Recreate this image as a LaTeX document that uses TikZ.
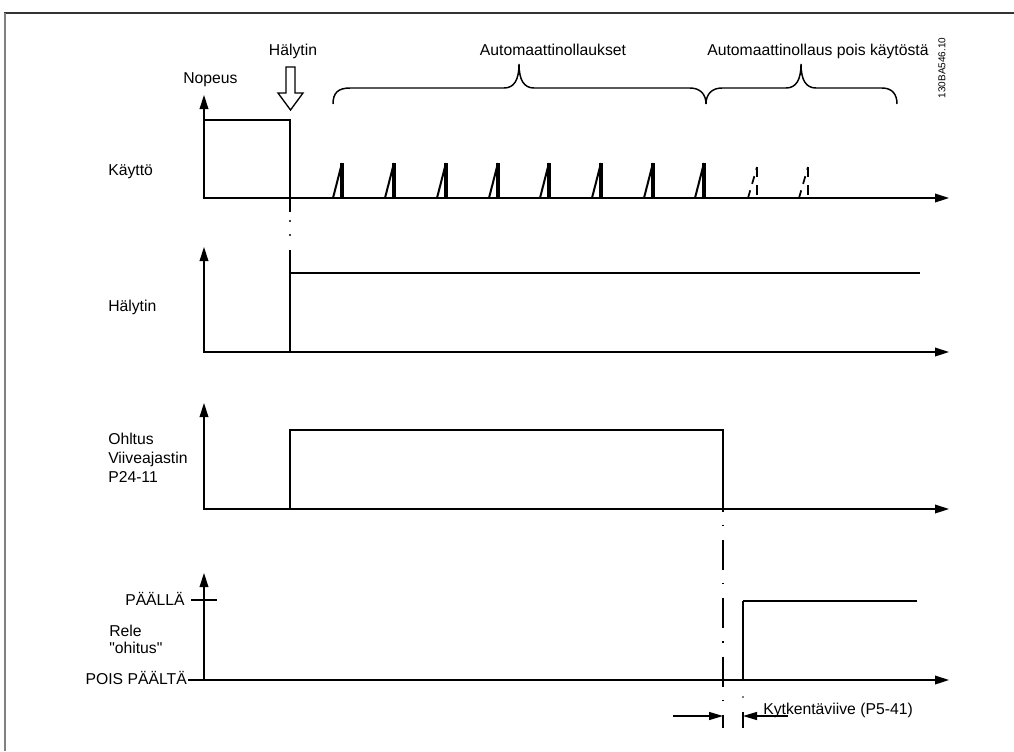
\documentclass[tikz,border=0pt]{standalone}
\usepackage{fontspec}
\setmainfont{Liberation Sans}[Ligatures=TeXOff]
\usetikzlibrary{arrows.meta}
\begin{document}
\begin{tikzpicture}[x=0.75pt,y=-0.75pt,
  axis/.style={line width=1.1pt,{Triangle[length=10.5pt,width=6.5pt]}-{Triangle[length=10.5pt,width=6.5pt]}},
  sig/.style={line width=1.7pt},
  thin sig/.style={line width=1.2pt},
  lbl/.style={font=\fontsize{11.8}{14}\selectfont, inner sep=0pt},
  ramp/.style={line width=1.5pt},
  rampv/.style={line width=2.4pt},
  dimarrow/.style={line width=0.9pt,-{Triangle[length=10.5pt,width=6pt]}},
  dashdot/.style={line width=0.8pt, dash pattern=on 22.5pt off 9.75pt on 1.1pt off 10.5pt, dash phase=20.6pt}
]
\useasboundingbox (0,0) rectangle (1014,751);
% frame
\draw[line width=1.2pt, black!80] (4,13) -- (1014,13);
\draw[line width=1.3pt, black!50] (5,13) -- (5,751);

% ---------- Panel 1: Kaytto ----------
\coordinate (y1) at (204,95);
\coordinate (o1) at (204,198);
\coordinate (x1) at (949,198);
\draw[axis] (y1) -- (o1) -- (x1);
\coordinate (s1a) at (204,120);
\coordinate (s1b) at (290,120);
\coordinate (s1c) at (290,198);
\draw[sig, line width=2pt] (s1a) -- (s1b) -- (s1c);
\draw[line width=0.9pt] (290,198) -- (290,212);
\fill (290,221) circle (0.9pt);
\fill (290,235) circle (0.9pt);
\draw[line width=0.9pt] (290,250) -- (290,273);

\foreach \xx in {342,394,446,498,549,601,653,704}{
  \draw[ramp] (\xx-9,198) -- (\xx,163);
  \draw[rampv] (\xx,163) -- (\xx,198);
}
\foreach \xx in {757,808}{
  \draw[ramp, line width=1.3pt, dash pattern=on 6pt off 5pt] (\xx-9,198) -- (\xx,167);
  \draw[rampv, line width=2pt, dash pattern=on 7.5pt off 6pt] (\xx,167) -- (\xx,198);
}

% hollow alarm arrow
\draw[line width=1pt, fill=white] (286,67) -- (295,67) -- (295,93) -- (303,93) -- (290.5,110) -- (278,93) -- (286,93) -- cycle;

% braces
\draw[line width=1.1pt] (333,104) .. controls (333,93) and (338,88) .. (350,88) -- (504,88)
  .. controls (514,88) and (519,80) .. (519,64) .. controls (519,80) and (524,88) .. (534,88)
  -- (690,88) .. controls (700,88) and (706,94) .. (706,104);
\draw[line width=1.1pt] (706,104) .. controls (706,94) and (712,88) .. (722,88) -- (786,88)
  .. controls (796,88) and (801,80) .. (801,64) .. controls (801,80) and (806,88) .. (816,88)
  -- (882,88) .. controls (892,88) and (897,94) .. (897,104);

% top labels
\node[lbl, anchor=base] (tHal) at (293,55) {Hälytin};
\node[lbl, anchor=base west] (tNop) at (183,83) {Nopeus};
\node[lbl, anchor=base] (tAuto) at (553,55) {Automaattinollaukset};
\node[lbl, anchor=base] (tAutoPois) at (818,55) {Automaattinollaus pois käytöstä};
\node[inner sep=0pt, rotate=90, font=\fontsize{7.5}{9}\selectfont] (code) at (942,68) {130BA546.10};
\node[lbl, anchor=base west] (tKay) at (108,175) {Käyttö};

% ---------- Panel 2: Halytin ----------
\coordinate (y2) at (204,247);
\coordinate (o2) at (204,352);
\coordinate (x2) at (949,352);
\draw[axis] (y2) -- (o2) -- (x2);
\coordinate (s2a) at (290,352);
\coordinate (s2b) at (290,273);
\coordinate (s2c) at (920,273);
\draw[sig] (s2a) -- (s2b);
\draw[thin sig] (s2b) -- (s2c);
\node[lbl, anchor=base west] (tHal2) at (108,311) {Hälytin};

% ---------- Panel 3: Ohitus ----------
\coordinate (y3) at (204,403);
\coordinate (o3) at (204,509);
\coordinate (x3) at (949,509);
\draw[axis] (y3) -- (o3) -- (x3);
\coordinate (s3a) at (290,509);
\coordinate (s3b) at (290,430);
\coordinate (s3c) at (723,430);
\coordinate (s3d) at (723,509);
\draw[sig] (s3a) -- (s3b) -- (s3c) -- (s3d);
\node[lbl, anchor=base west] (tOh1) at (108,444) {Ohltus};
\node[lbl, anchor=base west] (tOh2) at (108,463) {Viiveajastin};
\node[lbl, anchor=base west] (tOh3) at (108,482) {P24-11};

% dash-dot guide
\coordinate (g1) at (723,728);
\draw[dashdot] (s3d) -- (g1);

% ---------- Panel 4: Rele ----------
\coordinate (y4) at (204,573);
\coordinate (o4) at (204,680);
\coordinate (x4) at (949,680);
\coordinate (o4l) at (188,680);
\draw[axis] (y4) -- (o4) -- (x4);
\draw[line width=1.1pt] (o4l) -- (o4);
\coordinate (tk1) at (191,600);
\coordinate (tk2) at (217,600);
\draw[line width=1.1pt] (tk1) -- (tk2);
\coordinate (s4a) at (743,681);
\coordinate (s4b) at (743,601);
\coordinate (s4c) at (917,601);
\draw[sig] (s4a) -- (s4b);
\draw[thin sig] (s4b) -- (s4c);
\fill (743,697) circle (0.6pt);
\draw[line width=0.8pt] (743,712) -- (743,728);

\node[lbl, anchor=base east] (tOn) at (185,605) {PÄÄLLÄ};
\node[lbl, anchor=base east] (tOff) at (187,684) {POIS PÄÄLTÄ};
\node[lbl, anchor=base west] (tRele1) at (109,636) {Rele};
\node[lbl, anchor=base west] (tRele2) at (109,653) {"ohitus"};

% dimension arrows
\coordinate (d1) at (673,716);
\coordinate (d1e) at (723,716);
\coordinate (d2) at (788,716);
\coordinate (d2e) at (743,716);
\draw[dimarrow] (d1) -- (d1e);
\draw[dimarrow] (d2) -- (d2e);
\node[lbl, anchor=base west] (tDelay) at (763,714) {Kytkentäviive (P5-41)};
\end{tikzpicture}
\end{document}
